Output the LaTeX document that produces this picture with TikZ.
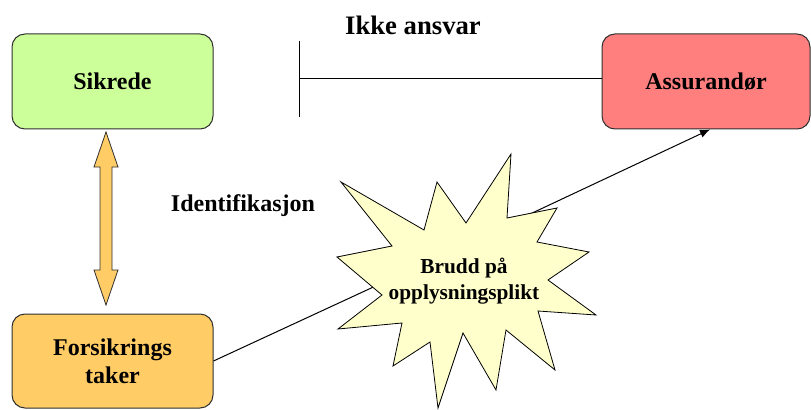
\documentclass[tikz,border=0pt]{standalone}
\usepackage{fontspec}
\setmainfont{Liberation Serif}
\usetikzlibrary{arrows.meta}
\definecolor{sikgreen}{HTML}{CCFF99}
\definecolor{assred}{HTML}{FF7F7F}
\definecolor{takorange}{HTML}{FFCC66}
\definecolor{staryellow}{HTML}{FFFFCC}
\definecolor{edgegray}{HTML}{303030}
\begin{document}
\begin{tikzpicture}[x=0.75pt,y=-0.75pt,
  box/.style={draw=edgegray, line width=0.75pt, rounded corners=9.75pt,
    minimum width=150.75pt, minimum height=71.25pt, inner sep=0pt, align=center,
    font=\fontsize{18}{21}\selectfont\bfseries},
  lbl/.style={inner sep=0pt, align=center, font=\fontsize{18}{21}\selectfont\bfseries},
  conn/.style={line width=0.75pt, black}]
\useasboundingbox (0,0) rectangle (811,410);

% boxes
\node[box, fill=sikgreen] (sik) at (112.5,81.5) {Sikrede};
\node[box, fill=assred, minimum width=156pt] (ass) at (706,81.5) {Assurandør};
\node[box, fill=takorange, minimum height=70.5pt] (tak) at (112.5,361) {Forsikrings\\taker};

% Ikke ansvar connector
\coordinate (bar) at (299,79);
\coordinate (bartop) at (299,41);
\coordinate (barbot) at (299,117);
\draw[conn] (bar -| ass.west) -- (bar);
\draw[conn] (bartop) -- (barbot);
\node[lbl, font=\fontsize{20}{24}\selectfont\bfseries] (ikke) at (413,25) {Ikke ansvar};

% identification double arrow
\draw[draw=edgegray, fill=takorange, line width=0.6pt]
  (106,132) -- (118,167) -- (112,167) -- (112,270) -- (118,270) -- (106,305)
  -- (94,270) -- (100,270) -- (100,167) -- (94,167) -- cycle;
\node[lbl] (ident) at (243,206) {Identifikasjon};

% connectors through star
\coordinate (sc) at (462,246);
\draw[conn] (tak.east) -- (sc);
\draw[conn, -{Latex[length=7.5pt, width=6pt]}] (sc) -- ([xshift=3pt]ass.south);

% star
\draw[draw=black, fill=staryellow, line width=0.6pt]
  (338,329) -- (402,323) -- (393,366) -- (430,342) -- (438,408) -- (463,333)
  -- (496,390) -- (506,330) -- (555,370) -- (538,311) -- (596,315) -- (548,280)
  -- (589,252) -- (537,242) -- (557,208) -- (507,218) -- (511,154) -- (466,223)
  -- (437,182) -- (424,230) -- (341,182) -- (392,246) -- (337,257) -- (382,295)
  -- cycle;
\node[lbl, font=\fontsize{16}{19}\selectfont\bfseries] (brudd) at (464,281) {Brudd på\\opplysningsplikt};
\end{tikzpicture}
\end{document}
